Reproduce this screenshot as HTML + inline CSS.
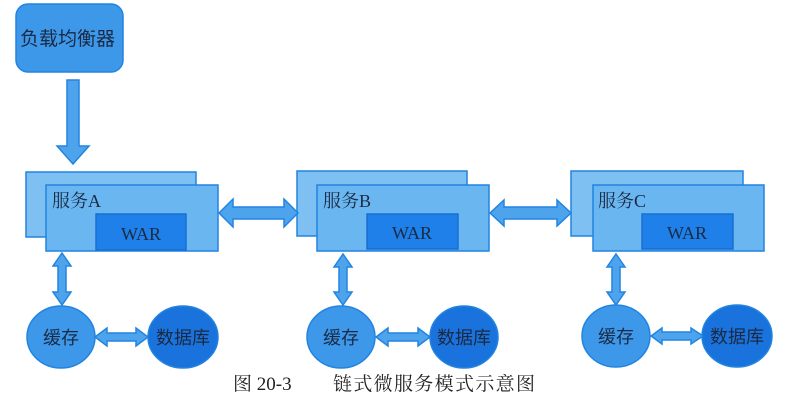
<!DOCTYPE html>
<html><head><meta charset="utf-8"><style>
html,body{margin:0;padding:0;background:#fff;}
svg{display:block;}
text{font-family:"Liberation Serif","Noto Serif CJK SC","Noto Sans CJK SC",serif;}
.cj{font-family:"Liberation Sans","Noto Sans CJK SC",sans-serif;}
</style></head><body>
<svg width="788" height="414" viewBox="0 0 788 414" xmlns="http://www.w3.org/2000/svg">
<g stroke="#2284e0" stroke-width="1.5">
<rect x="16" y="4" width="107" height="68" rx="12" fill="#3d98ea"/>
<polygon points="67,80 79,80 79,146 89,146 73,164 57,146 67,146" fill="#4ea4ec"/>
<rect x="26" y="172" width="170" height="65" fill="#7ec0f2"/>
<rect x="46" y="185" width="172" height="66" fill="#6ab6f0"/>
<rect x="96" y="214" width="90" height="36" fill="#1e80e8" stroke="#1a6ed0"/>
<rect x="297" y="171" width="170" height="65" fill="#7ec0f2"/>
<rect x="317" y="185" width="172" height="66" fill="#6ab6f0"/>
<rect x="367" y="214" width="91" height="35" fill="#1e80e8" stroke="#1a6ed0"/>
<rect x="571" y="171" width="172" height="65" fill="#7ec0f2"/>
<rect x="593" y="185" width="171" height="66" fill="#6ab6f0"/>
<rect x="642" y="214" width="91" height="35" fill="#1e80e8" stroke="#1a6ed0"/>
<polygon points="219,213 233,199 233,207 284,207 284,199 298,213 284,227 284,219 233,219 233,227" fill="#4ea4ec"/>
<polygon points="490,213 504,200 504,207 557,207 557,200 571,213 557,226 557,219 504,219 504,226" fill="#4ea4ec"/>
<polygon points="62,253 71,266 66,266 66,292 71,292 62,305 53,292 58,292 58,266 53,266" fill="#4ea4ec"/>
<polygon points="343,254 352,267 347,267 347,292 352,292 343,305 334,292 339,292 339,267 334,267" fill="#4ea4ec"/>
<polygon points="616,254 625,267 620,267 620,292 625,292 616,305 607,292 612,292 612,267 607,267" fill="#4ea4ec"/>
<ellipse cx="61" cy="337" rx="34" ry="31" fill="#3d98ea"/>
<ellipse cx="183" cy="337" rx="35" ry="31" fill="#1a72dc"/>
<ellipse cx="341" cy="337" rx="34" ry="31" fill="#3d98ea"/>
<ellipse cx="464" cy="337" rx="34" ry="31" fill="#1a72dc"/>
<ellipse cx="616" cy="336" rx="34" ry="31" fill="#3d98ea"/>
<ellipse cx="737" cy="336" rx="35" ry="31" fill="#1a72dc"/>
<polygon points="95,337 107,328 107,333 136,333 136,328 148,337 136,346 136,341 107,341 107,346" fill="#4ea4ec"/>
<polygon points="376,337 388,328 388,333 418,333 418,328 430,337 418,346 418,341 388,341 388,346" fill="#4ea4ec"/>
<polygon points="651,336 662,328 662,332 691,332 691,328 703,336 691,344 691,340 662,340 662,344" fill="#4ea4ec"/>
</g>
<g fill="#1a2a44">
<text x="20" y="45" class="cj" font-size="19">负载均衡器</text>
<text x="52" y="207" font-size="18">服务A</text>
<text x="323" y="207" font-size="18">服务B</text>
<text x="598" y="207" font-size="18">服务C</text>
<text x="141" y="240" text-anchor="middle" font-size="18">WAR</text>
<text x="412" y="239" text-anchor="middle" font-size="18">WAR</text>
<text x="687" y="239" text-anchor="middle" font-size="18">WAR</text>
<text x="61" y="344" text-anchor="middle" class="cj" font-size="18">缓存</text>
<text x="183" y="344" text-anchor="middle" class="cj" font-size="18">数据库</text>
<text x="341" y="344" text-anchor="middle" class="cj" font-size="18">缓存</text>
<text x="464" y="344" text-anchor="middle" class="cj" font-size="18">数据库</text>
<text x="616" y="343" text-anchor="middle" class="cj" font-size="18">缓存</text>
<text x="737" y="343" text-anchor="middle" class="cj" font-size="18">数据库</text>
<text x="233" y="390" font-size="19" fill="#222">图 20-3</text>
<text x="333" y="390" font-size="19" fill="#222" textLength="202">链式微服务模式示意图</text>
</g>
</svg>
</body></html>
